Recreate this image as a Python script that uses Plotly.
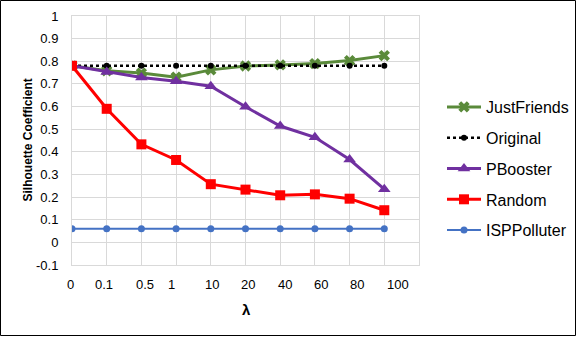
import plotly.graph_objects as go

lambdas = ["0", "0.1", "0.5", "1", "10", "20", "40", "60", "80", "100"]
just_friends = [0.78, 0.758, 0.748, 0.730, 0.762, 0.779, 0.784, 0.790, 0.803, 0.825]
original = [0.78, 0.78, 0.78, 0.78, 0.78, 0.78, 0.78, 0.78, 0.78, 0.78]
pbooster = [0.78, 0.753, 0.728, 0.712, 0.690, 0.599, 0.514, 0.464, 0.366, 0.235]
random_ = [0.78, 0.590, 0.433, 0.364, 0.257, 0.233, 0.208, 0.212, 0.193, 0.142]
isppolluter = [0.06, 0.06, 0.06, 0.06, 0.06, 0.06, 0.06, 0.06, 0.06, 0.06]
y_ticks = [-0.1, 0, 0.1, 0.2, 0.3, 0.4, 0.5, 0.6, 0.7, 0.8, 0.9, 1]
y_tick_text = ["-0.1", "0", "0.1", "0.2", "0.3", "0.4", "0.5", "0.6", "0.7", "0.8", "0.9", "1"]

W, H = 577, 337
L, R, T, B = 72, 158, 16, 72
PW, PH = W - L - R, H - T - B

idx = list(range(len(lambdas)))
FONT = "Liberation Sans"

fig = go.Figure()
fig.add_trace(go.Scatter(x=idx, y=just_friends, name="JustFriends", mode="lines+markers",
                         line=dict(color="#5A8A3A", width=3),
                         marker=dict(symbol="x", size=10, color="#5A8A3A")))
fig.add_trace(go.Scatter(x=idx, y=original, name="Original", mode="lines+markers",
                         line=dict(color="black", width=2.5, dash="dot"),
                         marker=dict(symbol="circle", size=6, color="black")))
fig.add_trace(go.Scatter(x=idx, y=pbooster, name="PBooster", mode="lines+markers",
                         line=dict(color="#7030A0", width=3),
                         marker=dict(symbol="triangle-up", size=11, color="#7030A0")))
fig.add_trace(go.Scatter(x=idx, y=random_, name="Random", mode="lines+markers",
                         line=dict(color="#FF0000", width=3),
                         marker=dict(symbol="square", size=10, color="#FF0000")))
fig.add_trace(go.Scatter(x=idx, y=isppolluter, name="ISPPolluter", mode="lines+markers",
                         line=dict(color="#4472C4", width=2),
                         marker=dict(symbol="circle", size=7, color="#4472C4")))

for i, tr in enumerate(fig.data):
    tr.legendgroup = "g%d" % i

grid = "#D9D9D9"
fig.update_layout(
    width=W, height=H,
    margin=dict(l=L, r=R, t=T, b=B, autoexpand=False),
    paper_bgcolor="white", plot_bgcolor="white",
    font=dict(family=FONT, size=13, color="black"),
    showlegend=True,
    legend=dict(x=(442 - L) / PW, y=1 - (90 - T) / PH, xanchor="left", yanchor="top",
                font=dict(family=FONT, size=16, color="black"),
                tracegroupgap=7, bgcolor="rgba(0,0,0,0)", itemwidth=34),
    xaxis=dict(range=[0, 10], dtick=1, tick0=0, showticklabels=False, showgrid=True,
               gridcolor=grid, gridwidth=1, zeroline=False,
               showline=True, linecolor=grid, linewidth=1, mirror=True),
    yaxis=dict(range=[-0.1, 1], tickvals=y_ticks, ticktext=y_tick_text, showgrid=True,
               gridcolor=grid, gridwidth=1, zeroline=False,
               showline=True, linecolor=grid, linewidth=1, mirror=True,
               ticks="outside", ticklen=10, tickcolor="rgba(0,0,0,0)",
               tickfont=dict(family=FONT, size=13)),
)

label_px = [70.7, 104, 145, 171.7, 212, 248, 285, 320.7, 357, 398]
for lab, px in zip(lambdas, label_px):
    fig.add_annotation(text=lab, xref="paper", yref="paper",
                       x=(px - L) / PW, y=-(284 - (H - B)) / PH,
                       xanchor="center", yanchor="middle", showarrow=False,
                       font=dict(family=FONT, size=13, color="black"))

fig.add_annotation(text="<b>λ</b>", xref="paper", yref="paper",
                   x=(246 - L) / PW, y=-(309 - (H - B)) / PH,
                   xanchor="center", yanchor="middle", showarrow=False,
                   font=dict(family=FONT, size=15, color="black"))
fig.add_annotation(text="<b>Silhouette Coefficient</b>", xref="paper", yref="paper",
                   x=(27 - L) / PW, y=0.5, textangle=-90,
                   xanchor="center", yanchor="middle", showarrow=False,
                   font=dict(family=FONT, size=12, color="black"))

fig.add_shape(type="rect", xref="paper", yref="paper",
              x0=(0.5 - L) / PW, x1=(W - 1.5 - L) / PW,
              y0=-(H - 1.5 - (H - B)) / PH, y1=1 + (T - 0.5) / PH,
              line=dict(color="black", width=1), fillcolor="rgba(0,0,0,0)", layer="above")

fig.write_html("out.html", config={"displayModeBar": False},
               post_script="document.body.style.margin='0';")
